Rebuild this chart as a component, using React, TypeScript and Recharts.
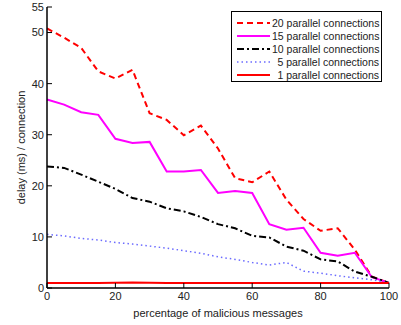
import { LineChart, Line, XAxis, YAxis, Label } from "recharts"

const pct = [0, 5, 10, 15, 20, 25, 30, 35, 40, 45, 50, 55, 60, 65, 70, 75, 80, 85, 90, 95, 100]
const conn20 = [50.8, 49.0, 47.0, 42.4, 41.0, 42.7, 34.2, 32.9, 29.9, 31.8, 27.3, 21.5, 20.7, 22.8, 17.3, 13.5, 11.2, 11.7, 7.5, 2.2, 1.0]
const conn15 = [36.9, 35.9, 34.4, 33.9, 29.2, 28.4, 28.6, 22.8, 22.8, 23.1, 18.6, 19.0, 18.6, 12.5, 11.4, 11.8, 6.9, 6.3, 6.9, 2.1, 1.0]
const conn10 = [23.8, 23.5, 22.2, 20.8, 19.4, 17.6, 16.9, 15.6, 15.0, 13.9, 12.5, 11.7, 10.2, 9.9, 8.1, 7.3, 5.6, 5.2, 3.2, 2.2, 1.0]
const conn5 = [10.5, 10.2, 9.7, 9.4, 8.9, 8.6, 8.2, 7.8, 7.3, 6.8, 6.1, 5.6, 5.0, 4.5, 5.0, 3.3, 2.9, 2.4, 2.0, 1.6, 1.0]
const conn1 = [1.0, 1.0, 1.0, 1.0, 1.05, 1.1, 1.05, 1.0, 1.0, 1.0, 1.0, 1.0, 1.0, 1.0, 1.0, 1.0, 1.0, 1.0, 1.0, 1.0, 1.0]

const xTicks = [0, 20, 40, 60, 80, 100]
const yTicks = [0, 10, 20, 30, 40, 50, 55]

const data = pct.map((p, i) => ({
  pct: p,
  c20: conn20[i],
  c15: conn15[i],
  c10: conn10[i],
  c5: conn5[i],
  c1: conn1[i],
}))

const series = [
  { key: "c20", name: "20 parallel connections", color: "#ff0000", width: 2, dash: "6 4" },
  { key: "c15", name: "15 parallel connections", color: "#ff00ff", width: 2, dash: undefined },
  { key: "c10", name: "10 parallel connections", color: "#000000", width: 2, dash: "7 3 2 3" },
  { key: "c5", name: "5 parallel connections", color: "#6b6bff", width: 1.5, dash: "1.5 3" },
  { key: "c1", name: "1 parallel connections", color: "#ff0000", width: 2, dash: undefined },
]

const font = "'Liberation Sans', Arial, sans-serif"
const tickStyle = { fontSize: 11, fill: "#222", fontFamily: font }

function LegendBox() {
  return (
    <div
      style={{
        position: "absolute",
        left: 231,
        top: 11,
        width: 151,
        height: 71,
        border: "1px solid #000",
        background: "#fff",
        fontFamily: font,
        fontSize: 10.5,
        color: "#222",
        paddingTop: 4,
        boxSizing: "border-box",
      }}
    >
      {series.map((s) => (
        <div key={s.key} style={{ display: "flex", alignItems: "center", height: 13 }}>
          <svg width={40} height={10} style={{ flex: "none" }}>
            <line x1={5} x2={38} y1={5} y2={5} stroke={s.color} strokeWidth={s.width} strokeDasharray={s.dash} />
          </svg>
          <span style={{ flex: 1, textAlign: "right", paddingRight: 2, whiteSpace: "nowrap" }}>{s.name}</span>
        </div>
      ))}
    </div>
  )
}

export default function App() {
  return (
    <div style={{ position: "absolute", left: 0, top: 0, width: 401, height: 325, background: "#fff" }}>
      <LineChart width={401} height={325} data={data} margin={{ top: 7, right: 12, bottom: 0, left: 0 }}>
        <XAxis
          xAxisId="b"
          dataKey="pct"
          type="number"
          domain={[0, 100]}
          ticks={xTicks}
          height={37}
          tickSize={-5}
          tickMargin={9}
          tick={tickStyle}
          stroke="#000"
          axisLine={{ stroke: "#000", strokeWidth: 1.5 }}
          interval={0}
        >
          <Label value="percentage of malicious messages" position="insideBottom" offset={8} style={{ fontSize: 11, fill: "#222", fontFamily: font }} />
        </XAxis>
        <XAxis
          xAxisId="t"
          orientation="top"
          dataKey="pct"
          type="number"
          domain={[0, 100]}
          ticks={xTicks}
          height={0}
          tickSize={-5}
          tickFormatter={() => ""}
          stroke="#000"
          axisLine={{ stroke: "#000", strokeWidth: 1.5 }}
        />
        <YAxis
          yAxisId="l"
          type="number"
          domain={[0, 55]}
          ticks={yTicks}
          width={47}
          tickSize={-5}
          tickMargin={8}
          tick={tickStyle}
          stroke="#000"
          axisLine={{ stroke: "#000", strokeWidth: 1.5 }}
          interval={0}
        >
          <Label value="delay (ms) / connection" angle={-90} position="center" dx={-2} style={{ fontSize: 11, fill: "#222", fontFamily: font, textAnchor: "middle" }} />
        </YAxis>
        <YAxis
          yAxisId="r"
          orientation="right"
          type="number"
          domain={[0, 55]}
          ticks={yTicks}
          width={0}
          tickSize={-5}
          tickFormatter={() => ""}
          stroke="#000"
          axisLine={{ stroke: "#000", strokeWidth: 1.5 }}
        />
        {series.map((s) => (
          <Line
            key={s.key}
            xAxisId="b"
            yAxisId="l"
            type="linear"
            dataKey={s.key}
            name={s.name}
            stroke={s.color}
            strokeWidth={s.width}
            strokeDasharray={s.dash}
            dot={false}
            isAnimationActive={false}
          />
        ))}
      </LineChart>
      <LegendBox />
    </div>
  )
}
